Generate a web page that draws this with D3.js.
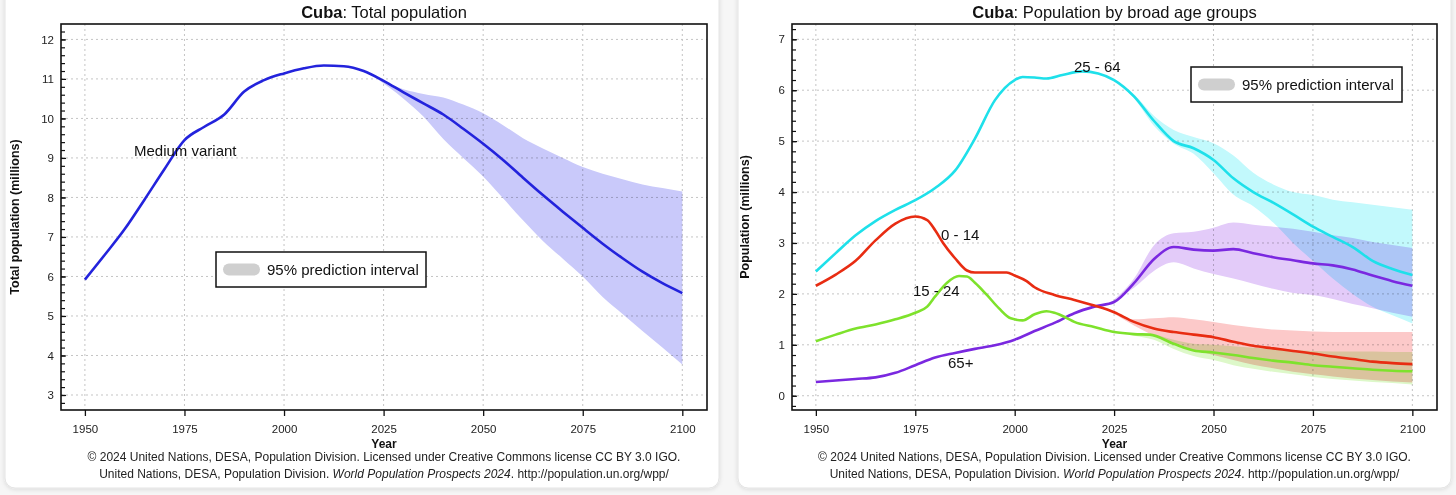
<!DOCTYPE html>
<html>
<head>
<meta charset="utf-8">
<script src="https://cdn.jsdelivr.net/npm/d3@7"></script>
<style>
  html, body { margin: 0; padding: 0; background: #f6f6f6; }
  svg { display: block; font-family: "Liberation Sans", Arial, sans-serif; }
</style>
</head>
<body>
<svg id="chart" width="1456" height="495"></svg>
<script>
// ---------------- DATA ----------------
// Left panel: total population (millions)
const totalYears = [1950,1955,1960,1965,1970,1975,1980,1985,1990,1995,2000,2005,2010,2015,2020,2025,2030,2035,2040,2045,2050,2055,2060,2065,2070,2075,2080,2085,2090,2095,2100];
const totalMedium = [5.92,6.55,7.2,7.95,8.72,9.45,9.79,10.1,10.68,10.97,11.14,11.27,11.34,11.32,11.2,10.95,10.66,10.38,10.1,9.74,9.36,8.95,8.5,8.06,7.64,7.23,6.83,6.46,6.12,5.83,5.58];
const totalBandYears = [2023,2030,2035,2040,2045,2050,2055,2060,2065,2070,2075,2080,2085,2090,2095,2100];
const totalUpper = [11.03,10.74,10.62,10.53,10.35,10.13,9.83,9.5,9.24,9.0,8.77,8.6,8.46,8.33,8.24,8.15];
const totalLower = [11.03,10.5,10.05,9.48,9.0,8.53,7.98,7.42,6.9,6.45,6.0,5.48,5.05,4.62,4.2,3.77];

// Right panel: broad age groups (millions)
const yearsA2564 = [1950,1955,1960,1965,1970,1975,1980,1985,1990,1995,2000,2002,2005,2008,2012,2017,2021,2025,2030,2035,2040,2045,2050,2055,2060,2065,2070,2075,2080,2085,2090,2095,2100];
const valsA2564  = [2.44,2.8,3.15,3.43,3.65,3.84,4.08,4.42,5.05,5.8,6.2,6.26,6.25,6.23,6.3,6.37,6.33,6.2,5.88,5.4,5.0,4.86,4.63,4.27,4.0,3.79,3.56,3.32,3.12,2.92,2.65,2.49,2.37];
const yearsA65 = [1950,1955,1960,1965,1970,1975,1980,1985,1990,1995,2000,2005,2010,2015,2020,2025,2030,2035,2040,2045,2050,2055,2060,2065,2070,2075,2080,2085,2090,2095,2100];
const valsA65  = [0.27,0.3,0.33,0.36,0.45,0.6,0.75,0.84,0.92,0.99,1.1,1.27,1.43,1.62,1.75,1.84,2.21,2.68,2.92,2.87,2.85,2.88,2.8,2.72,2.66,2.6,2.56,2.48,2.36,2.25,2.16];
const yearsA014 = [1950,1955,1960,1965,1970,1975,1978,1980,1982,1985,1988,1990,1995,1998,2000,2003,2005,2010,2015,2020,2025,2030,2035,2040,2045,2050,2055,2060,2065,2070,2075,2080,2085,2090,2095,2100];
const valsA014  = [2.16,2.38,2.65,3.05,3.38,3.52,3.45,3.25,3.0,2.7,2.46,2.42,2.42,2.42,2.36,2.25,2.13,1.98,1.88,1.77,1.64,1.45,1.32,1.25,1.2,1.15,1.06,0.98,0.93,0.88,0.83,0.77,0.72,0.67,0.64,0.62];
const yearsA1524 = [1950,1955,1960,1965,1970,1975,1978,1980,1983,1986,1988,1990,1993,1996,1999,2002,2005,2008,2010,2013,2015,2020,2025,2030,2034,2040,2045,2050,2055,2060,2065,2070,2075,2080,2085,2090,2095,2100];
const valsA1524  = [1.07,1.2,1.32,1.4,1.5,1.63,1.75,1.95,2.22,2.35,2.34,2.22,1.98,1.72,1.52,1.48,1.6,1.66,1.63,1.53,1.45,1.35,1.25,1.21,1.2,1.02,0.89,0.85,0.8,0.74,0.69,0.65,0.6,0.57,0.54,0.51,0.49,0.48];

const ageBandYears = [2024,2030,2035,2040,2045,2050,2055,2060,2065,2070,2075,2080,2085,2090,2095,2100];
const upperA2564 = [6.25,5.92,5.5,5.22,5.08,4.96,4.72,4.38,4.15,4.0,3.94,3.85,3.8,3.75,3.7,3.65];
const lowerA2564 = [6.25,5.84,5.3,4.95,4.75,4.37,3.95,3.72,3.4,3.0,2.65,2.3,2.0,1.75,1.58,1.42];
const upperA65 = [1.82,2.3,2.95,3.19,3.22,3.3,3.4,3.36,3.32,3.28,3.22,3.15,3.1,3.02,2.96,2.9];
const lowerA65 = [1.82,2.12,2.45,2.62,2.5,2.39,2.3,2.2,2.1,2.02,1.98,1.9,1.8,1.72,1.63,1.55];
const upperA014 = [1.66,1.5,1.52,1.54,1.5,1.45,1.39,1.34,1.3,1.28,1.26,1.25,1.25,1.25,1.25,1.25];
const lowerA014 = [1.66,1.38,1.18,1.02,0.9,0.8,0.7,0.61,0.54,0.47,0.42,0.38,0.34,0.31,0.28,0.26];
const upperA1524 = [1.25,1.22,1.2,1.1,1.02,1.0,0.97,0.94,0.92,0.9,0.88,0.87,0.87,0.87,0.86,0.86];
const lowerA1524 = [1.25,1.18,1.1,0.92,0.78,0.7,0.6,0.53,0.47,0.42,0.37,0.33,0.3,0.27,0.25,0.22];

// Tick labels
const xTickValues = [1950,1975,2000,2025,2050,2075,2100];
const yTicksTotal = [3,4,5,6,7,8,9,10,11,12];
const yTicksAge = [0,1,2,3,4,5,6,7];

// Texts
const footer1 = "© 2024 United Nations, DESA, Population Division. Licensed under Creative Commons license CC BY 3.0 IGO.";
const legendText = "95% prediction interval";

// ---------------- DRAW ----------------
const svg = d3.select("#chart");
const FONT = '"Liberation Sans", Arial, sans-serif';

const defs = svg.append("defs");
const f = defs.append("filter").attr("id","shadow").attr("x","-5%").attr("y","-5%").attr("width","110%").attr("height","110%");
f.append("feDropShadow").attr("dx",0).attr("dy",1).attr("stdDeviation",2).attr("flood-color","#000").attr("flood-opacity",0.12);

// cards
[[5,719],[738,1451]].forEach(([a,b]) => {
  svg.append("rect").attr("x",a).attr("y",-12).attr("width",b-a).attr("height",500)
    .attr("rx",10).attr("fill","#fff").attr("stroke","#e4e4e4").attr("stroke-width",1)
    .attr("filter","url(#shadow)");
});

const TOP = 24, BOTTOM = 410;

function zip(xs, ys){ return xs.map((d,i)=>[d, ys[i]]); }
function bandData(xs, lo, hi){ return xs.map((d,i)=>({x:d, lo:lo[i], hi:hi[i]})); }

function panel(cfg){
  const g = svg.append("g");
  const x = d3.scaleLinear().domain([1944, 2106.2]).range([cfg.left, cfg.right]);
  const y = d3.scaleLinear().domain(cfg.yDomain).range([BOTTOM, TOP]);

  // grid
  const grid = g.append("g").attr("stroke","#c4c4c4").attr("stroke-width",1).attr("stroke-dasharray","2,3");
  xTickValues.forEach(t => grid.append("line").attr("x1",x(t)).attr("x2",x(t)).attr("y1",TOP).attr("y2",BOTTOM));
  cfg.yTicks.forEach(t => grid.append("line").attr("x1",cfg.left).attr("x2",cfg.right).attr("y1",y(t)).attr("y2",y(t)));

  // bands
  const area = d3.area().x(d=>x(d.x)).y0(d=>y(d.lo)).y1(d=>y(d.hi)).curve(d3.curveMonotoneX);
  cfg.bands.forEach(b => {
    g.append("path").datum(b.data).attr("d", area).attr("fill", b.color)
      .style("mix-blend-mode","multiply");
  });

  // lines
  const line = d3.line().x(d=>x(d[0])).y(d=>y(d[1])).curve(d3.curveMonotoneX);
  cfg.lines.forEach(l => {
    g.append("path").datum(l.data).attr("d", line).attr("fill","none")
      .attr("stroke", l.color).attr("stroke-width", 2.6).attr("stroke-linejoin","round");
  });

  // frame
  g.append("rect").attr("x",cfg.left).attr("y",TOP).attr("width",cfg.right-cfg.left).attr("height",BOTTOM-TOP)
    .attr("fill","none").attr("stroke","#111").attr("stroke-width",1.6);

  // x axis
  const xa = g.append("g").attr("transform",`translate(0,${BOTTOM})`)
    .call(d3.axisBottom(x).tickValues(xTickValues).tickSize(6).tickPadding(9).tickFormat(d3.format("d")));
  xa.select(".domain").remove();
  xa.selectAll("line").attr("stroke","#111").attr("stroke-width",1.3);
  xa.selectAll("text").attr("font-family",FONT).attr("font-size",11.5).attr("fill","#222");

  // y minor ticks
  const [y0,y1] = cfg.yDomain;
  const minor = d3.range(Math.ceil(y0*5)/5, y1, 0.2);
  const ym = g.append("g").attr("transform",`translate(${cfg.left},0)`)
    .call(d3.axisLeft(y).tickValues(minor).tickSizeInner(-4).tickSizeOuter(0).tickFormat(""));
  ym.select(".domain").remove();
  ym.selectAll("line").attr("stroke","#111").attr("stroke-width",1.2);

  const ya = g.append("g").attr("transform",`translate(${cfg.left},0)`)
    .call(d3.axisLeft(y).tickValues(cfg.yTicks).tickSizeInner(-5).tickSizeOuter(0).tickPadding(7).tickFormat(d3.format("d")));
  ya.select(".domain").remove();
  ya.selectAll("line").attr("stroke","#111").attr("stroke-width",1.2);
  ya.selectAll("text").attr("font-family",FONT).attr("font-size",11.5).attr("fill","#222");

  const cx = (cfg.left+cfg.right)/2;
  // title
  const t = g.append("text").attr("x",cx).attr("y",18).attr("text-anchor","middle")
    .attr("font-family",FONT).attr("font-size",16.5).attr("fill","#111");
  t.append("tspan").attr("font-weight","bold").text("Cuba");
  t.append("tspan").text(": " + cfg.title);

  // axis titles
  g.append("text").attr("x",cx).attr("y",448).attr("text-anchor","middle")
    .attr("font-family",FONT).attr("font-size",12).attr("font-weight","bold").attr("fill","#111").text("Year");
  g.append("text").attr("transform",`translate(${cfg.yLabelX},${(TOP+BOTTOM)/2}) rotate(-90)`)
    .attr("text-anchor","middle").attr("font-family",FONT).attr("font-size",12.5).attr("font-weight","bold")
    .attr("fill","#111").text(cfg.yLabel);

  // footer
  g.append("text").attr("x",cx).attr("y",461).attr("text-anchor","middle")
    .attr("font-family",FONT).attr("font-size",12).attr("fill","#222").text(footer1);
  const f2 = g.append("text").attr("x",cx).attr("y",478).attr("text-anchor","middle")
    .attr("font-family",FONT).attr("font-size",12).attr("fill","#222");
  f2.append("tspan").text("United Nations, DESA, Population Division. ");
  f2.append("tspan").attr("font-style","italic").text("World Population Prospects 2024");
  f2.append("tspan").text(". http://population.un.org/wpp/");

  // legend
  const L = cfg.legend;
  g.append("rect").attr("x",L.x).attr("y",L.y).attr("width",L.w).attr("height",L.h)
    .attr("fill","#fff").attr("stroke","#111").attr("stroke-width",1.5);
  g.append("rect").attr("x",L.x+7).attr("y",L.y+L.h/2-6).attr("width",37).attr("height",12).attr("rx",6)
    .attr("fill","#cfcfcf");
  g.append("text").attr("x",L.x+51).attr("y",L.y+L.h/2+5.5).attr("font-family",FONT).attr("font-size",15)
    .attr("fill","#111").text(legendText);

  // labels
  cfg.labels.forEach(l => {
    g.append("text").attr("x",l.x).attr("y",l.y).attr("font-family",FONT).attr("font-size",15)
      .attr("fill","#111").text(l.text);
  });
}

panel({
  left: 61, right: 707,
  yDomain: [2.62, 12.39],
  yTicks: yTicksTotal,
  title: "Total population",
  yLabel: "Total population (millions)",
  yLabelX: 19,
  bands: [{data: bandData(totalBandYears, totalLower, totalUpper), color: "#c9c9fa"}],
  lines: [{data: zip(totalYears, totalMedium), color: "#2323dc"}],
  legend: {x: 216, y: 252, w: 210, h: 35},
  labels: [{text: "Medium variant", x: 134, y: 156}]
});

panel({
  left: 792, right: 1437,
  yDomain: [-0.28, 7.3],
  yTicks: yTicksAge,
  title: "Population by broad age groups",
  yLabel: "Population (millions)",
  yLabelX: 749,
  bands: [
    {data: bandData(ageBandYears, lowerA2564, upperA2564), color: "#c2f9fc"},
    {data: bandData(ageBandYears, lowerA65, upperA65), color: "#e3cbf9"},
    {data: bandData(ageBandYears, lowerA014, upperA014), color: "#fcc9c9"},
    {data: bandData(ageBandYears, lowerA1524, upperA1524), color: "#ddf8c9"}
  ],
  lines: [
    {data: zip(yearsA2564, valsA2564), color: "#1ee0ea"},
    {data: zip(yearsA65, valsA65), color: "#7a28e0"},
    {data: zip(yearsA014, valsA014), color: "#e82c12"},
    {data: zip(yearsA1524, valsA1524), color: "#7ee22c"}
  ],
  legend: {x: 1191, y: 67, w: 211, h: 35},
  labels: [
    {text: "25 - 64", x: 1074, y: 72},
    {text: "0 - 14", x: 941, y: 240},
    {text: "15 - 24", x: 913, y: 296},
    {text: "65+", x: 948, y: 368}
  ]
});
</script>
</body>
</html>
